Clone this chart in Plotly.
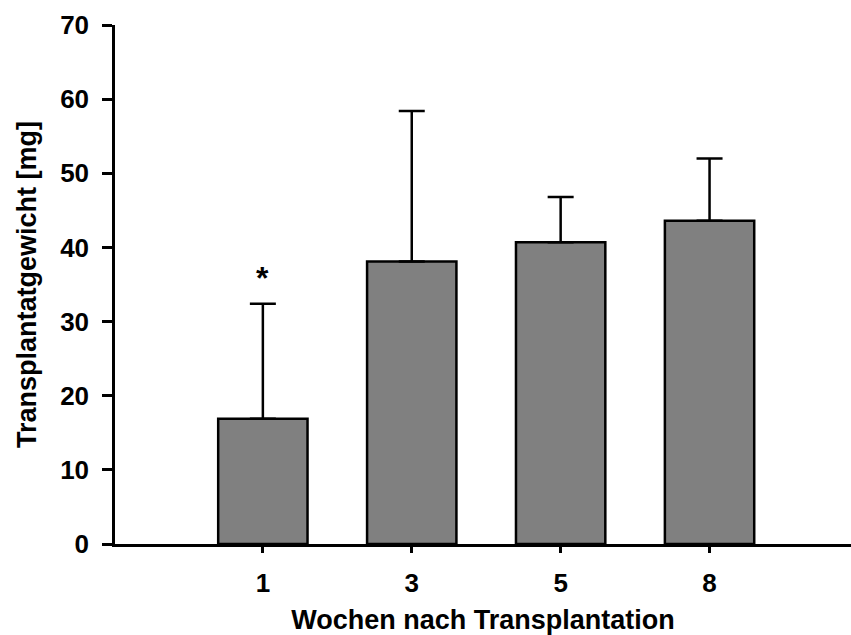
import plotly.graph_objects as go

categories = ["1", "3", "5", "8"]
means = [16.9, 38.1, 40.7, 43.6]
sd_upper = [15.5, 20.3, 6.1, 8.4]
star_labels = ["*", "", "", ""]

positions = list(range(len(categories)))
fam = "Liberation Sans, Arial"

fig = go.Figure()
fig.add_trace(go.Bar(
    x=positions, y=means, width=0.6,
    marker=dict(color="#808080", line=dict(color="black", width=2.5)),
    error_y=dict(type="data", array=sd_upper, arrayminus=[0]*4, symmetric=False,
                 color="black", thickness=2.5, width=13),
    showlegend=False,
))

for p, m, s, lab in zip(positions, means, sd_upper, star_labels):
    if lab:
        fig.add_annotation(x=p, y=m + s, text="<b>" + lab + "</b>", showarrow=False,
                           yanchor="bottom", yshift=6,
                           font=dict(family=fam, size=32, color="black"))

fig.update_layout(
    width=851, height=635,
    margin=dict(l=115, r=0, t=25, b=91),
    paper_bgcolor="white", plot_bgcolor="white",
    font=dict(family=fam, size=26, color="black"),
    xaxis=dict(range=[-0.993, 3.95], tickvals=positions,
               ticktext=["<b>%s</b>" % c for c in categories],
               tickfont=dict(family=fam, size=26, color="black"),
               ticklabelstandoff=8,
               showline=True, linecolor="black", linewidth=2.5,
               ticks="outside", ticklen=6, tickwidth=2.5, tickcolor="black",
               showgrid=False, zeroline=False,
               title=dict(text="<b>Wochen nach Transplantation</b>", standoff=19,
                          font=dict(family=fam, size=27, color="black"))),
    yaxis=dict(range=[0, 70], tickvals=[0, 10, 20, 30, 40, 50, 60, 70],
               ticktext=["<b>%d</b>" % v for v in [0, 10, 20, 30, 40, 50, 60, 70]],
               tickfont=dict(family=fam, size=26, color="black"),
               ticklabelstandoff=8,
               showline=True, linecolor="black", linewidth=2.5,
               ticks="outside", ticklen=10, tickwidth=2.5, tickcolor="black",
               showgrid=False, zeroline=False,
               title=dict(text="<b>Transplantatgewicht [mg]</b>", standoff=16,
                          font=dict(family=fam, size=27, color="black"))),
)

fig.write_html("out.html")
